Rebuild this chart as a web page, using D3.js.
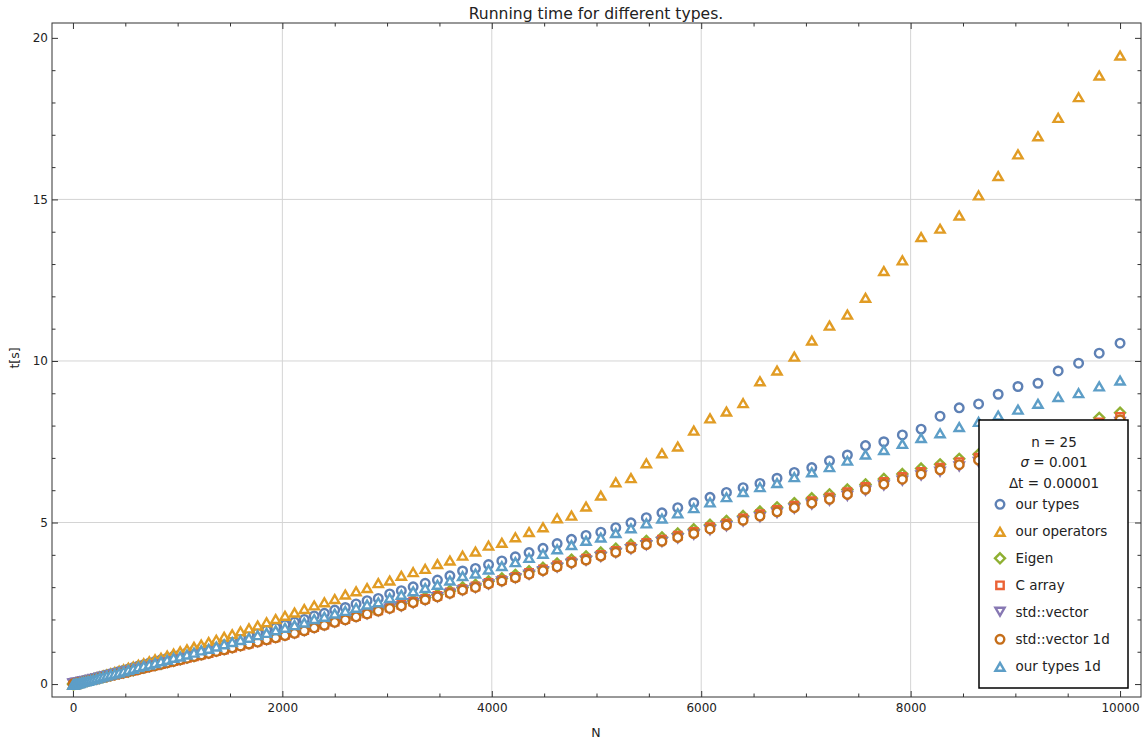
<!DOCTYPE html>
<html>
<head>
<meta charset="utf-8">
<script src="https://cdn.jsdelivr.net/npm/d3@7"></script>
<style>
  body { margin: 0; background: #fff; }
  text { font-family: "DejaVu Sans", Verdana, sans-serif; fill: #222; }
</style>
</head>
<body>
<div id="chart"></div>
<script>
// problem size N (k^2, k = 1..100)
const N = [
  1, 4, 9, 16, 25, 36, 49, 64, 81, 100,
  121, 144, 169, 196, 225, 256, 289, 324, 361, 400,
  441, 484, 529, 576, 625, 676, 729, 784, 841, 900,
  961, 1024, 1089, 1156, 1225, 1296, 1369, 1444, 1521, 1600,
  1681, 1764, 1849, 1936, 2025, 2116, 2209, 2304, 2401, 2500,
  2601, 2704, 2809, 2916, 3025, 3136, 3249, 3364, 3481, 3600,
  3721, 3844, 3969, 4096, 4225, 4356, 4489, 4624, 4761, 4900,
  5041, 5184, 5329, 5476, 5625, 5776, 5929, 6084, 6241, 6400,
  6561, 6724, 6889, 7056, 7225, 7396, 7569, 7744, 7921, 8100,
  8281, 8464, 8649, 8836, 9025, 9216, 9409, 9604, 9801, 10000
];

const ourTypes = [
  0.00, 0.00, 0.01, 0.01, 0.02, 0.03, 0.04, 0.06, 0.07, 0.09,
  0.11, 0.13, 0.15, 0.17, 0.20, 0.23, 0.26, 0.29, 0.32, 0.35,
  0.39, 0.43, 0.47, 0.51, 0.56, 0.60, 0.65, 0.70, 0.75, 0.80,
  0.86, 0.91, 0.97, 1.03, 1.10, 1.16, 1.23, 1.30, 1.37, 1.44,
  1.51, 1.59, 1.67, 1.75, 1.83, 1.92, 2.00, 2.11, 2.19, 2.29,
  2.37, 2.48, 2.58, 2.65, 2.79, 2.89, 3.01, 3.12, 3.22, 3.35,
  3.50, 3.58, 3.70, 3.81, 3.94, 4.07, 4.20, 4.35, 4.48, 4.60,
  4.70, 4.84, 4.99, 5.15, 5.30, 5.46, 5.61, 5.78, 5.93, 6.08,
  6.21, 6.37, 6.55, 6.70, 6.91, 7.09, 7.38, 7.50, 7.71, 7.89,
  8.29, 8.55, 8.67, 8.97, 9.21, 9.31, 9.69, 9.93, 10.24, 10.55
];

const ourOperators = [
  0.00, 0.00, 0.01, 0.02, 0.02, 0.03, 0.05, 0.06, 0.08, 0.10,
  0.12, 0.14, 0.16, 0.19, 0.22, 0.25, 0.28, 0.31, 0.35, 0.39,
  0.43, 0.47, 0.52, 0.56, 0.61, 0.66, 0.72, 0.78, 0.83, 0.90,
  0.96, 1.03, 1.09, 1.17, 1.24, 1.32, 1.39, 1.48, 1.56, 1.65,
  1.74, 1.83, 1.93, 2.03, 2.13, 2.23, 2.34, 2.45, 2.55, 2.65,
  2.79, 2.89, 2.99, 3.14, 3.22, 3.37, 3.48, 3.58, 3.73, 3.84,
  3.99, 4.12, 4.30, 4.39, 4.56, 4.72, 4.87, 5.15, 5.23, 5.51,
  5.85, 6.26, 6.39, 6.85, 7.16, 7.37, 7.86, 8.24, 8.45, 8.71,
  9.39, 9.72, 10.15, 10.65, 11.11, 11.45, 11.97, 12.80, 13.13, 13.85,
  14.11, 14.52, 15.14, 15.74, 16.41, 16.97, 17.54, 18.18, 18.85, 19.47
];

const eigen = [
  0.00, 0.00, 0.01, 0.01, 0.02, 0.03, 0.04, 0.05, 0.06, 0.08,
  0.09, 0.11, 0.13, 0.15, 0.17, 0.19, 0.22, 0.24, 0.27, 0.30,
  0.33, 0.36, 0.39, 0.43, 0.47, 0.51, 0.55, 0.59, 0.63, 0.68,
  0.72, 0.77, 0.82, 0.87, 0.93, 0.98, 1.04, 1.09, 1.15, 1.21,
  1.27, 1.34, 1.41, 1.47, 1.54, 1.61, 1.70, 1.79, 1.87, 1.96,
  2.05, 2.14, 2.23, 2.32, 2.41, 2.49, 2.59, 2.68, 2.77, 2.88,
  2.99, 3.07, 3.18, 3.27, 3.38, 3.49, 3.60, 3.73, 3.85, 3.95,
  4.07, 4.19, 4.31, 4.43, 4.54, 4.66, 4.79, 4.93, 5.05, 5.20,
  5.34, 5.47, 5.60, 5.75, 5.87, 6.02, 6.18, 6.35, 6.50, 6.67,
  6.80, 6.97, 7.11, 7.27, 7.43, 7.60, 7.77, 7.96, 8.24, 8.40
];

const cArray = [
  0.00, 0.00, 0.01, 0.01, 0.02, 0.03, 0.04, 0.05, 0.06, 0.07,
  0.09, 0.10, 0.12, 0.14, 0.16, 0.19, 0.21, 0.24, 0.26, 0.29,
  0.32, 0.35, 0.39, 0.42, 0.46, 0.50, 0.54, 0.58, 0.62, 0.67,
  0.71, 0.76, 0.81, 0.86, 0.91, 0.96, 1.02, 1.07, 1.13, 1.19,
  1.25, 1.32, 1.38, 1.45, 1.52, 1.59, 1.67, 1.76, 1.84, 1.93,
  2.01, 2.10, 2.19, 2.28, 2.37, 2.45, 2.55, 2.64, 2.73, 2.84,
  2.94, 3.02, 3.13, 3.22, 3.32, 3.44, 3.55, 3.67, 3.79, 3.88,
  4.00, 4.12, 4.24, 4.37, 4.47, 4.59, 4.71, 4.86, 4.97, 5.13,
  5.26, 5.39, 5.52, 5.66, 5.78, 5.94, 6.10, 6.26, 6.41, 6.57,
  6.70, 6.87, 7.01, 7.16, 7.32, 7.49, 7.67, 7.85, 8.10, 8.27
];

const stdVector = [
  0.00, 0.00, 0.01, 0.01, 0.02, 0.03, 0.03, 0.04, 0.06, 0.07,
  0.08, 0.10, 0.12, 0.14, 0.16, 0.18, 0.21, 0.23, 0.26, 0.29,
  0.31, 0.35, 0.38, 0.41, 0.45, 0.48, 0.52, 0.56, 0.60, 0.65,
  0.69, 0.74, 0.79, 0.84, 0.89, 0.94, 1.00, 1.05, 1.11, 1.17,
  1.23, 1.29, 1.35, 1.42, 1.48, 1.55, 1.63, 1.72, 1.80, 1.89,
  1.97, 2.06, 2.15, 2.24, 2.32, 2.39, 2.49, 2.58, 2.67, 2.78,
  2.88, 2.96, 3.07, 3.16, 3.26, 3.37, 3.48, 3.59, 3.71, 3.80,
  3.92, 4.04, 4.16, 4.28, 4.38, 4.49, 4.61, 4.75, 4.87, 5.02,
  5.15, 5.28, 5.41, 5.54, 5.66, 5.81, 5.97, 6.13, 6.28, 6.44,
  6.56, 6.72, 6.86, 7.01, 7.17, 7.34, 7.50, 7.68, 7.94, 8.10
];

const stdVector1d = [
  0.00, 0.00, 0.01, 0.01, 0.02, 0.03, 0.04, 0.05, 0.06, 0.07,
  0.09, 0.10, 0.12, 0.14, 0.16, 0.19, 0.21, 0.23, 0.26, 0.29,
  0.32, 0.35, 0.38, 0.42, 0.45, 0.49, 0.53, 0.57, 0.61, 0.66,
  0.70, 0.75, 0.80, 0.85, 0.90, 0.95, 1.01, 1.06, 1.12, 1.18,
  1.24, 1.30, 1.37, 1.43, 1.50, 1.57, 1.65, 1.74, 1.82, 1.91,
  1.99, 2.08, 2.17, 2.26, 2.34, 2.42, 2.52, 2.61, 2.70, 2.81,
  2.91, 2.99, 3.10, 3.19, 3.29, 3.40, 3.51, 3.63, 3.75, 3.84,
  3.96, 4.08, 4.20, 4.32, 4.42, 4.54, 4.66, 4.80, 4.92, 5.07,
  5.20, 5.33, 5.46, 5.60, 5.72, 5.87, 6.03, 6.19, 6.34, 6.50,
  6.63, 6.79, 6.93, 7.08, 7.24, 7.41, 7.58, 7.76, 8.02, 8.18
];

const ourTypes1d = [
  0.00, 0.00, 0.01, 0.01, 0.02, 0.03, 0.04, 0.05, 0.07, 0.09,
  0.10, 0.12, 0.14, 0.16, 0.19, 0.22, 0.25, 0.28, 0.31, 0.34,
  0.37, 0.41, 0.45, 0.49, 0.54, 0.58, 0.62, 0.67, 0.72, 0.77,
  0.83, 0.87, 0.93, 0.99, 1.06, 1.11, 1.18, 1.25, 1.32, 1.38,
  1.45, 1.53, 1.60, 1.68, 1.76, 1.84, 1.92, 2.03, 2.10, 2.20,
  2.28, 2.38, 2.48, 2.55, 2.68, 2.78, 2.89, 2.99, 3.09, 3.22,
  3.36, 3.44, 3.56, 3.67, 3.79, 3.92, 4.05, 4.19, 4.32, 4.45,
  4.55, 4.69, 4.84, 4.99, 5.14, 5.30, 5.46, 5.64, 5.80, 5.96,
  6.11, 6.24, 6.42, 6.57, 6.73, 6.93, 7.12, 7.26, 7.45, 7.63,
  7.78, 7.97, 8.13, 8.33, 8.51, 8.69, 8.90, 9.02, 9.23, 9.41
];

const seriesNames = ["our types", "our operators", "Eigen", "C array", "std::vector", "std::vector 1d", "our types 1d"];
const seriesValues = [ourTypes, ourOperators, eigen, cArray, stdVector, stdVector1d, ourTypes1d];
const seriesColors = ["#5e81b5", "#e19c24", "#8fb032", "#eb6235", "#8778b3", "#c56e1a", "#5d9ec7"];
const seriesShapes = ["circle", "triangleUp", "diamond", "square", "triangleDown", "circle", "triangleUp"];

const xMajorTicks = [0, 2000, 4000, 6000, 8000, 10000];
const xMinorTicks = [500, 1000, 1500, 2500, 3000, 3500, 4500, 5000, 5500, 6500, 7000, 7500, 8500, 9000, 9500];
const yMajorTicks = [0, 5, 10, 15, 20];
const yMinorTicks = [1, 2, 3, 4, 6, 7, 8, 9, 11, 12, 13, 14, 16, 17, 18, 19];
const xGrid = [2000, 4000, 6000, 8000];
const yGrid = [5, 10, 15];

const width = 1145, height = 745;
const frame = { left: 52, right: 1141, top: 23, bottom: 697 };

const svg = d3.select("#chart").append("svg")
  .attr("width", width)
  .attr("height", height);

const x = d3.scaleLinear().domain([-200, 10200]).range([frame.left, frame.right]);
const y = d3.scaleLinear().domain([-0.4, 20.46]).range([frame.bottom, frame.top]);

// grid lines
svg.append("g").selectAll("line").data(xGrid).join("line")
  .attr("x1", d => x(d)).attr("x2", d => x(d))
  .attr("y1", frame.top).attr("y2", frame.bottom)
  .attr("stroke", "#d4d4d4").attr("stroke-width", 1);
svg.append("g").selectAll("line").data(yGrid).join("line")
  .attr("y1", d => y(d)).attr("y2", d => y(d))
  .attr("x1", frame.left).attr("x2", frame.right)
  .attr("stroke", "#d4d4d4").attr("stroke-width", 1);

// marker shapes
function markerPath(shape) {
  const p = d3.path();
  if (shape === "circle") {
    p.arc(0, 0, 4.3, 0, 2 * Math.PI);
  } else if (shape === "triangleUp") {
    p.moveTo(0, -4.3); p.lineTo(4.6, 3.6); p.lineTo(-4.6, 3.6); p.closePath();
  } else if (shape === "triangleDown") {
    p.moveTo(0, 4.3); p.lineTo(4.6, -3.6); p.lineTo(-4.6, -3.6); p.closePath();
  } else if (shape === "diamond") {
    p.moveTo(0, -5); p.lineTo(5, 0); p.lineTo(0, 5); p.lineTo(-5, 0); p.closePath();
  } else if (shape === "square") {
    p.rect(-3.7, -3.7, 7.4, 7.4);
  }
  return p.toString();
}
const shapeOffset = { circle: 0, triangleUp: 0.9, triangleDown: -0.9, diamond: 0, square: 0 };

// data points
seriesValues.forEach((values, i) => {
  const shape = seriesShapes[i];
  svg.append("g")
    .selectAll("path")
    .data(values.map((v, j) => [N[j], v]))
    .join("path")
    .attr("d", markerPath(shape))
    .attr("transform", d => `translate(${x(d[0])},${y(d[1]) + shapeOffset[shape]})`)
    .attr("fill", "#fff")
    .attr("stroke", seriesColors[i])
    .attr("stroke-width", 2.4);
});

// axes with inward ticks
function addAxis(axisFn, scale, values, size, transform, labels) {
  const g = svg.append("g")
    .attr("transform", transform)
    .call(axisFn(scale).tickValues(values).tickSize(-size).tickPadding(labels ? 6 : 0)
      .tickFormat(labels ? d => d : () => ""));
  g.select(".domain").remove();
  g.selectAll("line").attr("stroke", "#333");
  g.selectAll("text").style("font-size", "12px").attr("fill", "#222");
  return g;
}
addAxis(d3.axisBottom, x, xMajorTicks, 6, `translate(0,${frame.bottom})`, true);
addAxis(d3.axisBottom, x, xMinorTicks, 3.5, `translate(0,${frame.bottom})`, false);
addAxis(d3.axisTop, x, xMajorTicks, 6, `translate(0,${frame.top})`, false);
addAxis(d3.axisTop, x, xMinorTicks, 3.5, `translate(0,${frame.top})`, false);
const yAx = addAxis(d3.axisLeft, y, yMajorTicks, 6, `translate(${frame.left},0)`, true);
yAx.selectAll("text").attr("x", -4);
addAxis(d3.axisLeft, y, yMinorTicks, 3.5, `translate(${frame.left},0)`, false);
addAxis(d3.axisRight, y, yMajorTicks, 6, `translate(${frame.right},0)`, false);
addAxis(d3.axisRight, y, yMinorTicks, 3.5, `translate(${frame.right},0)`, false);

// frame
svg.append("rect")
  .attr("x", frame.left).attr("y", frame.top)
  .attr("width", frame.right - frame.left).attr("height", frame.bottom - frame.top)
  .attr("fill", "none").attr("stroke", "#333").attr("stroke-width", 1);

// title and axis labels
svg.append("text")
  .attr("x", 596).attr("y", 19)
  .attr("text-anchor", "middle")
  .style("font-size", "15.6px")
  .text("Running time for different types.");
svg.append("text")
  .attr("x", 596).attr("y", 737)
  .attr("text-anchor", "middle")
  .style("font-size", "12.5px")
  .text("N");
svg.append("text")
  .attr("transform", "translate(19,358) rotate(-90)")
  .attr("text-anchor", "middle")
  .style("font-size", "12.5px")
  .text("t[s]");

// legend
const legend = svg.append("g");
legend.append("rect")
  .attr("x", 979).attr("y", 420)
  .attr("width", 149).attr("height", 268)
  .attr("fill", "#fff").attr("stroke", "#000").attr("stroke-width", 1.5);

const header = legend.append("g").style("font-size", "13.5px").attr("text-anchor", "middle");
header.append("text").attr("x", 1054).attr("y", 446.5).text("n = 25");
const sig = header.append("text").attr("x", 1054).attr("y", 467);
sig.append("tspan").style("font-style", "italic").text("σ");
sig.append("tspan").text(" = 0.001");
header.append("text").attr("x", 1054).attr("y", 487.5).text("Δt = 0.00001");

seriesNames.forEach((name, i) => {
  const cy = 504.3 + i * 27;
  const shape = seriesShapes[i];
  legend.append("path")
    .attr("d", markerPath(shape))
    .attr("transform", `translate(1000,${cy + shapeOffset[shape]})`)
    .attr("fill", "#fff")
    .attr("stroke", seriesColors[i])
    .attr("stroke-width", 2.4);
  legend.append("text")
    .attr("x", 1015.5).attr("y", cy)
    .attr("dy", "0.35em")
    .style("font-size", "13.5px")
    .text(name);
});
</script>
</body>
</html>
